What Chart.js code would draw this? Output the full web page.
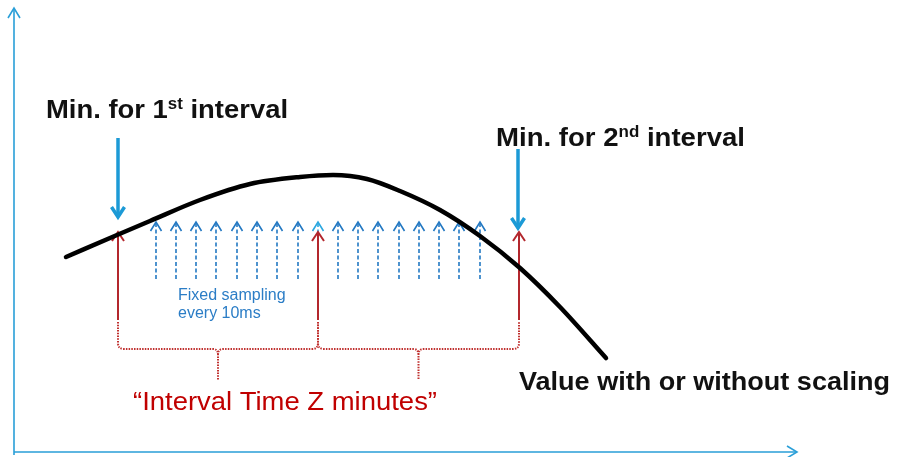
<!DOCTYPE html>
<html>
<head>
<meta charset="utf-8">
<script src="https://cdn.jsdelivr.net/npm/chart.js@4/dist/chart.umd.min.js"></script>
<style>
    html, body { margin: 0; padding: 0; background: #fff; }
    #diagram { display: block; }
</style>
</head>
<body>
<canvas id="diagram" width="897" height="457"></canvas>
<script>
// diagram values, in picture units (x right, y down)
var curveX = [66, 117, 150, 200, 250, 300, 333, 367, 400, 440, 480, 520, 560, 606];
var curveY = [257, 235, 221, 200, 184, 177, 175, 179, 191, 210, 236, 268, 307, 358];
var sampleX = [156, 176, 196, 216, 237, 257, 277, 298, 318, 338, 358, 378, 399, 419, 439, 459, 480];
var intervalX = [118, 318, 519];
var minMarkX = [118, 518];
var minMarkTop = [138, 149];
var minMarkTip = [217, 228];
var minLabels = [['Min. for 1', 'st', ' interval'], ['Min. for 2', 'nd', ' interval']];
var samplingLabel = ['Fixed sampling', 'every 10ms'];
var intervalLabel = '\u201CInterval Time Z minutes\u201D';
var valueLabel = 'Value with or without scaling';

(function () {
    var canvas = document.getElementById('diagram');

    var curvePoints = curveX.map(function (x, i) {
        return { x: x, y: curveY[i] };
    });

    function arrowHead(ctx, x, y, dir, w, h) {
        // dir: -1 = pointing up, 1 = pointing down
        ctx.beginPath();
        ctx.moveTo(x - w, y - dir * h);
        ctx.lineTo(x, y);
        ctx.lineTo(x + w, y - dir * h);
        ctx.stroke();
    }

    function fitText(ctx, text, x, y, width) {
        var w = ctx.measureText(text).width;
        ctx.save();
        ctx.translate(x, y);
        ctx.scale(width / w, 1);
        ctx.fillText(text, 0, 0);
        ctx.restore();
    }

    function supText(ctx, parts, x, y, size, width) {
        var big = 'bold ' + size + 'px "Liberation Sans", Arial, sans-serif';
        var small = 'bold ' + Math.round(size * 0.62) + 'px "Liberation Sans", Arial, sans-serif';
        ctx.font = big;
        var w0 = ctx.measureText(parts[0]).width;
        var w2 = ctx.measureText(parts[2]).width;
        ctx.font = small;
        var w1 = ctx.measureText(parts[1]).width;
        var k = width / (w0 + w1 + w2);
        ctx.save();
        ctx.translate(x, y);
        ctx.scale(k, 1);
        ctx.font = big;
        ctx.fillText(parts[0], 0, 0);
        ctx.fillText(parts[2], w0 + w1, 0);
        ctx.font = small;
        ctx.fillText(parts[1], w0, -size * 0.33);
        ctx.restore();
    }

    var overlay = {
        id: 'overlay',
        beforeDatasetsDraw: function (chart) {
            var ctx = chart.ctx;
            var sx = chart.scales.x, sy = chart.scales.y;
            function px(v) { return sx.getPixelForValue(v); }
            function py(v) { return sy.getPixelForValue(v); }

            ctx.save();
            ctx.lineCap = 'butt';

            // axes
            ctx.strokeStyle = '#2a9fd8';
            ctx.lineWidth = 1.6;
            ctx.beginPath();
            ctx.moveTo(px(14), py(455));
            ctx.lineTo(px(14), py(8));
            ctx.moveTo(px(14), py(452));
            ctx.lineTo(px(797), py(452));
            ctx.stroke();
            arrowHead(ctx, px(14), py(8), -1, 6, 10);
            ctx.beginPath();
            ctx.moveTo(px(787), py(446));
            ctx.lineTo(px(797), py(452));
            ctx.lineTo(px(787), py(458));
            ctx.stroke();

            // dashed sampling arrows
            sampleX.forEach(function (x) {
                var onInterval = intervalX.indexOf(x) >= 0;
                ctx.strokeStyle = onInterval ? '#2aa7df' : '#2278c2';
                ctx.lineWidth = 1.6;
                ctx.setLineDash([4, 2.5]);
                ctx.beginPath();
                ctx.moveTo(px(x), py(279));
                ctx.lineTo(px(x), py(224));
                ctx.stroke();
                ctx.setLineDash([]);
                arrowHead(ctx, px(x), py(222), -1, 5.5, 9);
            });

            // interval arrows
            ctx.strokeStyle = '#b3272d';
            ctx.lineWidth = 2;
            intervalX.forEach(function (x) {
                ctx.beginPath();
                ctx.moveTo(px(x), py(320));
                ctx.lineTo(px(x), py(234));
                ctx.stroke();
                arrowHead(ctx, px(x), py(232), -1, 6, 9);
            });

            // dotted braces under each interval
            ctx.strokeStyle = '#c0302f';
            ctx.lineWidth = 2;
            ctx.setLineDash([1.5, 1.2]);
            for (var i = 0; i < intervalX.length - 1; i++) {
                var a = px(intervalX[i]), b = px(intervalX[i + 1]);
                var m = (a + b) / 2;
                var top = py(322), bar = py(349), tip = py(380);
                ctx.beginPath();
                ctx.moveTo(a, top);
                ctx.lineTo(a, bar - 6);
                ctx.quadraticCurveTo(a, bar, a + 6, bar);
                ctx.lineTo(m - 5, bar);
                ctx.quadraticCurveTo(m, bar, m, bar + 6);
                ctx.lineTo(m, tip);
                ctx.moveTo(m, bar + 6);
                ctx.quadraticCurveTo(m, bar, m + 5, bar);
                ctx.lineTo(b - 6, bar);
                ctx.quadraticCurveTo(b, bar, b, bar - 6);
                ctx.lineTo(b, top);
                ctx.stroke();
            }
            ctx.setLineDash([]);
            ctx.restore();
        },
        afterDatasetsDraw: function (chart) {
            var ctx = chart.ctx;
            var sx = chart.scales.x, sy = chart.scales.y;
            function px(v) { return sx.getPixelForValue(v); }
            function py(v) { return sy.getPixelForValue(v); }

            ctx.save();

            // minimum markers
            ctx.strokeStyle = '#1c9ad6';
            ctx.lineWidth = 3.5;
            minMarkX.forEach(function (x, i) {
                ctx.beginPath();
                ctx.moveTo(px(x), py(minMarkTop[i]));
                ctx.lineTo(px(x), py(minMarkTip[i] - 2));
                ctx.stroke();
                arrowHead(ctx, px(x), py(minMarkTip[i]), 1, 6.5, 10);
            });

            // labels
            ctx.fillStyle = '#111';
            ctx.textBaseline = 'alphabetic';
            supText(ctx, minLabels[0], px(46), py(118), 26, 242);
            supText(ctx, minLabels[1], px(496), py(146), 26, 249);
            ctx.font = 'bold 26px "Liberation Sans", Arial, sans-serif';
            fitText(ctx, valueLabel, px(519), py(390), 371);

            ctx.fillStyle = '#c00000';
            ctx.font = '26px "Liberation Sans", Arial, sans-serif';
            fitText(ctx, intervalLabel, px(133), py(410), 304);

            ctx.fillStyle = '#2b7dc6';
            ctx.font = '16px "Liberation Sans", Arial, sans-serif';
            ctx.fillText(samplingLabel[0], px(178), py(300));
            ctx.fillText(samplingLabel[1], px(178), py(318));

            ctx.restore();
        }
    };

    new Chart(canvas, {
        type: 'scatter',
        data: {
            datasets: [
                {
                    data: curvePoints,
                    showLine: true,
                    borderColor: '#000',
                    borderWidth: 4.5,
                    borderCapStyle: 'round',
                    pointRadius: 0,
                    cubicInterpolationMode: 'monotone',
                    fill: false
                }
            ]
        },
        options: {
            responsive: false,
            animation: false,
            layout: { padding: 0 },
            scales: {
                x: { type: 'linear', min: 0, max: 897, display: false },
                y: { type: 'linear', min: 0, max: 457, reverse: true, display: false }
            },
            plugins: {
                legend: { display: false },
                tooltip: { enabled: false }
            }
        },
        plugins: [overlay]
    });
})();
</script>
</body>
</html>
